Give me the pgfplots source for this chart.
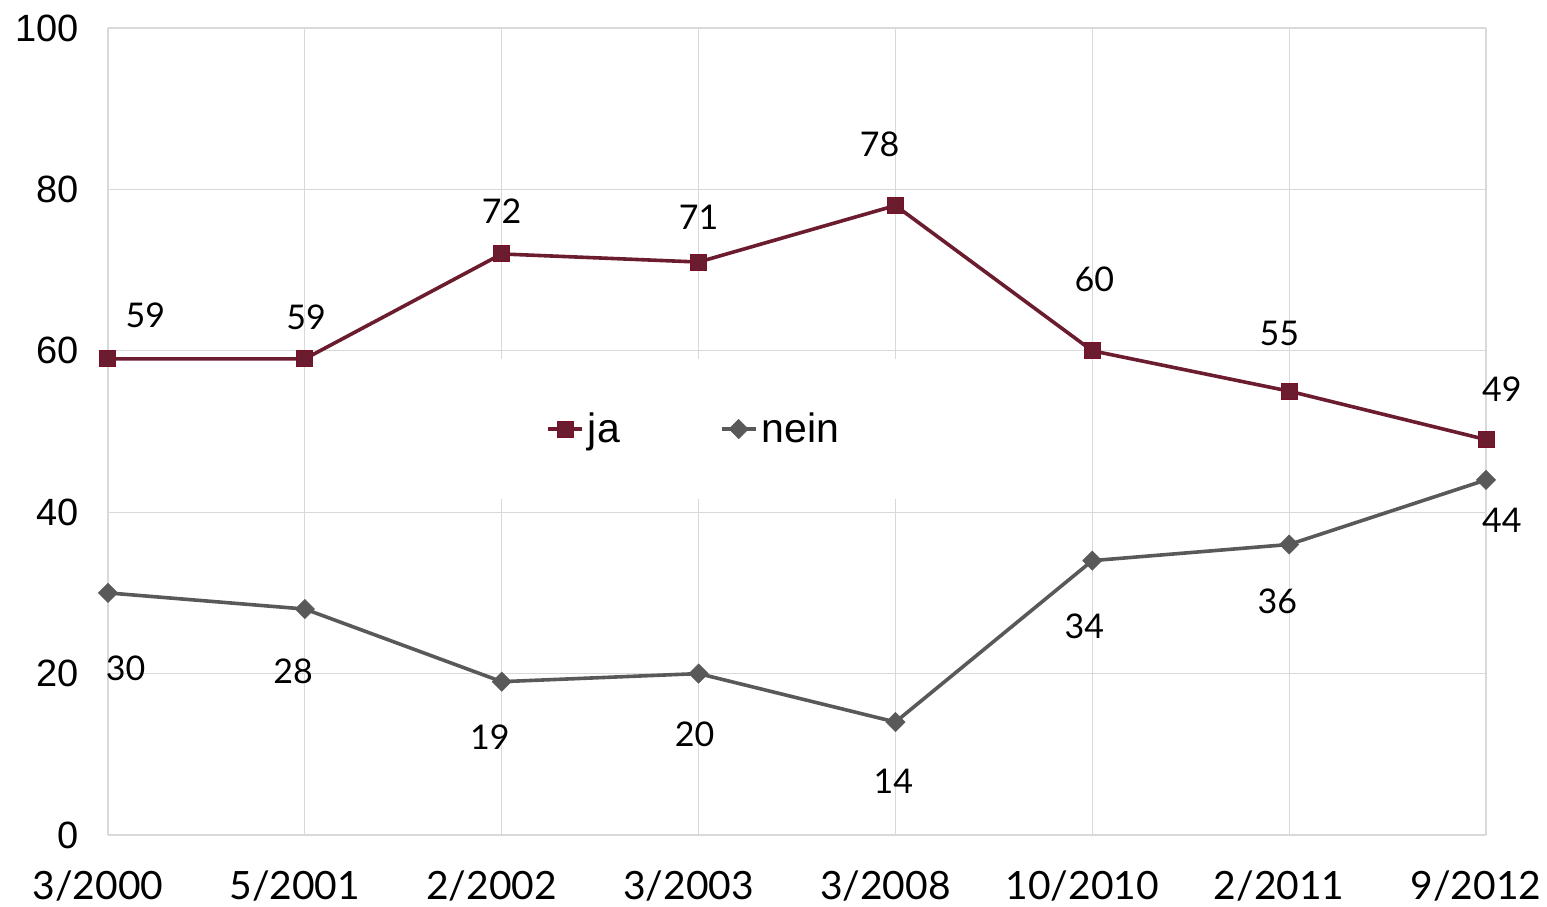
\documentclass[border=0pt]{standalone}
\usepackage{pgfplots}
\pgfplotsset{compat=1.18}
\usepackage{fontspec}
\setmainfont{Liberation Sans}
\newfontfamily\labfont{Lato}
\definecolor{jacol}{HTML}{6B1C2E}
\definecolor{jaedge}{HTML}{7A1028}
\definecolor{neincol}{HTML}{595959}
\definecolor{gridcol}{HTML}{D9D9D9}
\begin{document}
\begin{tikzpicture}
\begin{axis}[
  name=ax,
  at={(0,0)}, anchor=south west,
  scale only axis,
  width=689pt, height=403.5pt,
  xmin=0, xmax=7, ymin=0, ymax=100,
  xtick={0,...,7},
  xticklabels={3/2000,5/2001,2/2002,3/2003,3/2008,10/2010,2/2011,9/2012},
  ytick={0,20,...,100},
  grid=major,
  major grid style={draw=gridcol, line width=0.6pt},
  axis line style={draw=gridcol, line width=0.8pt},
  axis x line*=bottom, axis y line*=left,
  major tick length=0pt,
  /pgf/number format/assume math mode=true,
  yticklabel style={font=\fontsize{19}{23}\selectfont, anchor=east, inner sep=0pt, xshift=-14.5pt},
  xticklabel style={font=\labfont\fontsize{19.5}{24}\selectfont, anchor=center, inner sep=0pt, yshift=-25.5pt, xshift=-5pt},
  legend style={at={(axis cs:2.98,50.3)}, anchor=center, draw=none, fill=white,
    inner xsep=30pt, inner ysep=25pt, font=\fontsize{20.5}{24}\selectfont,
    /tikz/every even column/.append style={column sep=48pt}},
  legend columns=2,
  clip=false,
]
\addplot[jacol, line width=1.8pt, mark=square*, mark size=4pt,
  mark options={fill=jacol, draw=jaedge, line width=0.5pt}]
  coordinates {(0,59)(1,59)(2,72)(3,71)(4,78)(5,60)(6,55)(7,49)};
\addlegendentry{ja}
\addplot[neincol, line width=1.8pt, mark=square*, mark size=3.4pt,
  mark options={fill=neincol, draw=neincol, rotate=45, line width=0.3pt}]
  coordinates {(0,30)(1,28)(2,19)(3,20)(4,14)(5,34)(6,36)(7,44)};
\addlegendentry{nein}
\begin{scope}[every node/.style={font=\labfont\fontsize{17}{20}\selectfont, inner sep=0pt}]
\node at (axis cs:0.19,64.4) {59};
\node at (axis cs:1.006,64.2) {59};
\node at (axis cs:2.0,77.3) {72};
\node at (axis cs:3.0,76.5) {71};
\node at (axis cs:3.92,85.6) {78};
\node at (axis cs:5.01,68.8) {60};
\node at (axis cs:5.95,62.1) {55};
\node at (axis cs:7.08,55.3) {49};
\node at (axis cs:0.09,20.7) {30};
\node at (axis cs:0.94,20.3) {28};
\node at (axis cs:1.94,12.1) {19};
\node at (axis cs:2.98,12.5) {20};
\node at (axis cs:3.99,6.6) {14};
\node at (axis cs:4.96,25.8) {34};
\node at (axis cs:5.94,28.9) {36};
\node at (axis cs:7.08,39.0) {44};
\end{scope}
\end{axis}
\pgfresetboundingbox
\path ([xshift=-54pt,yshift=-35.5pt]ax.south west) rectangle ([xshift=30.5pt,yshift=14pt]ax.north east);
\end{tikzpicture}
\end{document}
